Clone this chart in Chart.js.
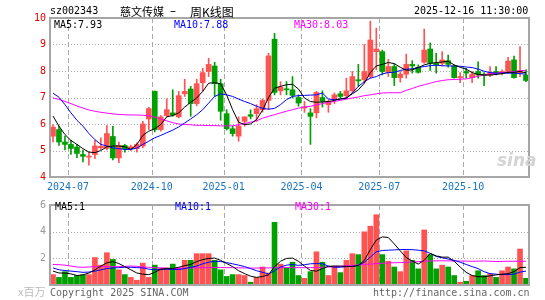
<!DOCTYPE html>
<html>
<head>
<meta charset="utf-8">
<script src="https://cdn.jsdelivr.net/npm/chart.js@4/dist/chart.umd.min.js"></script>
<style>
  body { margin: 0; background: #fff; width: 545px; height: 300px; overflow: hidden; position: relative; }
  canvas { position: absolute; left: 0; }
  #pc { top: 0; }
  #vc { top: 195px; }
  .t { position: absolute; white-space: pre; line-height: 12px; font: 10px "DejaVu Sans Mono", monospace; }
  .cjk { font-family: "Noto Sans CJK SC", sans-serif; font-size: 11px; }
</style>
</head>
<body>
<canvas id="pc" width="545" height="195"></canvas>
<canvas id="vc" width="545" height="105"></canvas>

<div class="t" style="left:50px;top:5px;color:#000">sz002343</div>
<div class="t cjk" style="left:120px;top:3px;color:#000">慈文传媒</div>
<div class="t" style="left:170px;top:4px;color:#000;font:12px 'DejaVu Sans',sans-serif">–</div>
<div class="t cjk" style="left:190px;top:3px;color:#000;font-size:12px">周K线图</div>
<div class="t" style="left:414px;top:5px;color:#000">2025-12-16 11:30:00</div>

<div class="t" style="left:54px;top:19px;color:#000">MA5:7.93</div>
<div class="t" style="left:174px;top:19px;color:#0000ff">MA10:7.88</div>
<div class="t" style="left:294px;top:19px;color:#ff00ff">MA30:8.03</div>

<div class="t" style="left:497px;top:151px;color:#d4d4d4;font:italic bold 17px 'DejaVu Sans',sans-serif;line-height:18px">sina</div>

<div class="t" style="left:55px;top:201px;color:#000">MA5:1</div>
<div class="t" style="left:175px;top:201px;color:#0000ff">MA10:1</div>
<div class="t" style="left:295px;top:201px;color:#ff00ff">MA30:1</div>

<div class="t cjk" style="left:18px;top:283px;color:#bbb">x百万</div>
<div class="t" style="left:50px;top:287px;color:#666">Copyright 2025 SINA.COM</div>
<div class="t" style="left:373px;top:287px;color:#666">http://finance.sina.com.cn</div>

<script>
// weekly bars, 2024-06 .. 2025-12
const open  = [5.54,5.79,5.32,5.23,5.13,4.85,4.75,4.85,5.10,5.08, 5.53,4.72,5.19,5.07,5.07,5.17,6.19,7.23,5.79,6.32,
               6.42,6.27,7.14,7.32,6.77,7.56,7.98,8.19,7.52,6.39, 5.82,5.54,6.10,6.35,6.39,6.54,6.89,9.20,7.25,7.32,
               7.29,7.00,6.60,6.42,6.42,7.00,6.73,6.92,7.14,7.07, 7.25,7.67,7.67,7.79,8.73,8.73,7.94,8.17,7.75,7.88,
               8.25,8.14,8.33,8.83,8.29,8.29,8.39,8.19,7.75,7.98, 7.75,7.98,7.88,7.84,7.98,7.92,7.98,8.42,7.92,7.85];
const high  = [5.98,5.92,5.54,5.38,5.23,5.02,4.94,5.38,5.48,5.94, 5.91,5.32,5.23,5.20,5.29,6.10,6.63,7.25,6.32,6.95,
               7.29,7.23,7.69,7.42,7.69,8.10,8.48,8.33,7.69,6.54, 5.92,6.27,6.27,6.54,6.73,6.95,8.67,9.42,7.60,7.60,
               7.79,7.10,6.85,6.58,7.23,7.25,6.92,7.17,7.23,7.73, 7.98,8.25,9.00,9.88,9.62,8.79,8.44,8.27,7.98,8.64,
               8.39,8.23,9.58,9.06,8.67,8.73,8.60,8.23,7.94,8.10, 7.98,8.35,7.94,8.17,8.17,8.04,8.52,8.56,8.92,8.04];
const low   = [5.32,5.19,5.02,4.85,4.73,4.57,4.45,4.69,5.04,5.02, 4.64,4.54,4.94,5.00,4.94,5.10,5.79,5.70,5.73,6.27,
               6.29,6.23,7.04,6.29,6.69,7.23,7.79,7.04,6.14,5.77, 5.54,5.35,5.92,6.19,6.10,6.45,6.54,7.10,7.10,7.10,
               6.98,6.67,6.44,5.23,6.23,6.64,6.44,6.77,6.98,6.94, 7.17,7.42,7.54,7.73,8.04,7.85,7.79,7.45,7.58,7.73,
               7.92,7.92,8.29,8.02,7.92,8.19,8.14,7.73,7.56,7.73, 7.56,7.73,7.45,7.79,7.85,7.85,7.92,7.73,7.79,7.60];
const close = [5.88,5.32,5.23,5.08,4.89,4.78,4.78,5.17,5.16,5.64, 4.72,5.19,5.07,5.14,5.23,6.00,6.58,5.79,6.27,6.54,
               6.34,7.07,7.23,6.77,7.52,7.94,8.25,7.52,6.48,5.82, 5.64,5.92,6.27,6.29,6.58,6.89,8.57,7.19,7.39,7.29,
               7.08,6.79,6.64,6.29,7.19,6.85,6.85,7.10,7.04,7.25, 7.79,7.63,7.98,9.17,8.83,7.98,8.17,7.75,7.88,8.25,
               8.19,7.95,8.79,8.29,8.23,8.42,8.25,7.75,7.79,7.92, 7.88,7.85,7.83,7.94,7.94,7.98,8.38,7.75,8.02,7.64];

// price moving averages
const ma5  = [6.30,5.92,5.60,5.38,5.23,5.07,4.94,4.92,5.00,5.14, 5.17,5.17,5.14,5.04,5.22,5.57,5.73,5.82,5.98,6.27,
              6.32,6.42,6.64,6.82,6.98,7.23,7.54,7.56,7.52,7.10, 6.54,6.07,5.98,6.00,6.17,6.52,7.00,7.35,7.42,7.48,
              7.50,7.32,6.98,6.85,6.82,6.83,6.85,6.89,6.95,6.98, 7.14,7.29,7.54,7.94,8.19,8.25,8.32,8.28,8.14,8.03,
              8.04,8.13,8.23,8.29,8.32,8.34,8.37,8.23,8.14,8.07, 7.94,7.87,7.85,7.85,7.87,7.90,7.95,7.95,7.98,7.93];
const ma10 = [7.16,7.01,6.73,6.42,6.14,5.92,5.64,5.41,5.23,5.17, 5.10,5.07,5.04,5.04,5.09,5.23,5.35,5.48,5.57,5.67,
              5.77,5.89,6.04,6.19,6.35,6.54,6.79,7.04,7.14,7.10, 7.04,6.94,6.85,6.77,6.67,6.59,6.56,6.59,6.73,6.92,
              7.04,7.07,7.08,7.09,7.10,7.17,6.94,6.92,6.94,6.98, 7.17,7.42,7.60,7.73,7.79,7.89,7.94,7.95,8.02,8.07,
              8.08,8.13,8.17,8.20,8.22,8.20,8.19,8.19,8.18,8.15, 8.13,8.07,7.99,7.94,7.92,7.92,7.92,7.92,7.90,7.88];
const ma30 = [6.98,6.93,6.85,6.77,6.68,6.60,6.53,6.48,6.44,6.41, 6.38,6.36,6.35,6.34,6.34,6.33,6.31,6.26,6.19,6.12,
              6.05,6.00,5.98,5.97,5.95,5.95,5.94,5.94,5.93,5.93, 5.93,5.97,6.02,6.07,6.12,6.22,6.29,6.35,6.42,6.48,
              6.54,6.60,6.64,6.67,6.72,6.77,6.82,6.85,6.89,6.94, 6.98,7.02,7.07,7.10,7.14,7.17,7.18,7.18,7.18,7.27,
              7.34,7.42,7.48,7.54,7.60,7.64,7.67,7.68,7.69,7.70, 7.75,7.80,7.85,7.89,7.92,7.94,7.95,7.98,8.00,8.03];

// volume, millions of shares
const vol   = [0.78,0.57,1.00,0.57,0.71,0.76,0.78,2.06,1.49,2.42, 1.92,1.14,0.78,0.57,0.36,1.64,0.57,1.49,1.28,1.28,
               1.57,1.30,1.85,1.85,2.35,2.35,2.35,1.85,1.14,0.64, 0.78,0.78,0.71,0.21,0.57,1.35,0.90,4.70,1.57,1.28,
               1.71,0.71,0.50,1.00,2.49,1.71,0.71,1.42,0.93,1.85, 2.35,2.28,3.99,4.41,5.27,2.28,1.78,1.35,1.00,2.56,
               1.85,1.21,4.13,2.28,1.21,1.49,1.35,0.71,0.21,0.28, 0.71,1.07,0.71,0.85,0.57,1.07,1.35,1.21,2.70,0.50];
const vma5  = [1.04,0.90,0.90,0.83,0.71,0.76,0.90,1.14,1.42,1.66, 1.76,1.61,1.38,1.14,0.90,0.81,0.78,0.95,1.19,1.23,
               1.23,1.33,1.45,1.54,1.76,1.90,1.99,2.02,1.85,1.61, 1.38,1.07,0.85,0.66,0.57,0.64,0.76,1.38,1.78,1.99,
               2.02,1.78,1.42,1.09,1.04,1.23,1.40,1.42,1.42,1.40, 1.38,1.47,1.85,2.66,3.37,3.61,3.56,3.08,2.56,2.06,
               1.80,1.57,1.85,2.37,2.18,2.09,2.09,1.78,1.35,0.95, 0.71,0.62,0.62,0.69,0.76,0.81,0.85,1.00,1.30,1.33];
const vma10 = [1.28,1.14,1.09,1.04,1.00,0.95,0.97,1.04,1.14,1.23, 1.28,1.30,1.33,1.33,1.30,1.28,1.19,1.14,1.16,1.19,
               1.16,1.16,1.23,1.33,1.42,1.59,1.71,1.78,1.76,1.68, 1.59,1.49,1.38,1.23,1.07,0.95,0.83,1.07,1.35,1.49,
               1.54,1.47,1.52,1.59,1.61,1.59,1.42,1.33,1.33,1.38, 1.40,1.47,1.71,2.09,2.49,2.59,2.61,2.63,2.66,2.66,
               2.65,2.61,2.56,2.37,2.14,2.04,1.95,1.85,1.71,1.54, 1.38,1.23,1.00,0.85,0.81,0.78,0.78,0.81,0.97,1.04];
const vma30 = [1.54,1.52,1.49,1.42,1.35,1.33,1.35,1.38,1.38,1.38, 1.38,1.38,1.40,1.42,1.40,1.35,1.33,1.30,1.28,1.26,
               1.23,1.24,1.26,1.28,1.30,1.30,1.30,1.31,1.31,1.30, 1.30,1.29,1.28,1.27,1.27,1.28,1.28,1.30,1.31,1.31,
               1.30,1.30,1.30,1.30,1.31,1.33,1.35,1.38,1.40,1.44, 1.47,1.50,1.54,1.57,1.60,1.63,1.66,1.67,1.68,1.70,
               1.73,1.75,1.78,1.80,1.81,1.82,1.81,1.80,1.80,1.79, 1.78,1.79,1.80,1.78,1.76,1.77,1.78,1.78,1.78,1.78];

// month ticks on the time axis
const monthIdx = [3, 17, 29, 42, 55, 69];
const monthLbl = ['2024-07', '2024-10', '2025-01', '2025-04', '2025-07', '2025-10'];
const priceGrid = [5, 6, 7, 8, 9];
const volGrid = [2, 4];

const UP = '#ff5353', DOWN = '#00a000';
const MONO = { family: 'DejaVu Sans Mono', size: 10 };

// one category per week (Friday of that week)
const weeks = [];
for (let i = 0; i < close.length; i++) {
    const d = new Date(Date.UTC(2024, 5, 14 + 7 * i));
    weeks.push(d.toISOString().slice(0, 10));
}
const tickText = weeks.map((w, i) => {
    const k = monthIdx.indexOf(i);
    return k >= 0 ? monthLbl[k] : '';
});
const barColor = close.map((c, i) => c >= open[i] ? UP : DOWN);
const bodies = open.map((o, i) => [o, close[i]]);
const wicks = low.map((l, i) => [l, high[i]]);

// dotted / dashed guides behind the bars, placed through the chart's own scales
const guides = {
    id: 'guides',
    beforeDatasetsDraw(chart, args, opts) {
        const { ctx, chartArea: a, scales: { x, y } } = chart;
        const half = (x.getPixelForValue(1) - x.getPixelForValue(0)) / 2;
        ctx.save();
        ctx.strokeStyle = '#aaaaaa';
        ctx.lineWidth = 1;
        ctx.setLineDash([1, 2]);
        opts.ys.forEach(v => {
            const py = Math.round(y.getPixelForValue(v)) + 0.5;
            ctx.beginPath(); ctx.moveTo(a.left, py); ctx.lineTo(a.right, py); ctx.stroke();
        });
        ctx.setLineDash([5, 3]);
        monthIdx.forEach(i => {
            const px = Math.round(x.getPixelForValue(i) - half) + 0.5;
            ctx.beginPath(); ctx.moveTo(px, a.top); ctx.lineTo(px, a.bottom); ctx.stroke();
        });
        ctx.restore();
    },
    afterDraw(chart) {
        const { ctx, chartArea: a } = chart;
        ctx.save();
        ctx.strokeStyle = '#a6a6a6';
        ctx.lineWidth = 2;
        ctx.strokeRect(a.left, a.top, a.right - a.left, a.bottom - a.top);
        ctx.restore();
    }
};

function lineSet(data, color) {
    return { type: 'line', data, borderColor: color, borderWidth: 1, pointRadius: 0, tension: 0, order: 0 };
}

// price panel
new Chart(document.getElementById('pc'), {
    type: 'bar',
    data: {
        labels: weeks,
        datasets: [
            lineSet(ma5, '#000000'),
            lineSet(ma10, '#0000ff'),
            lineSet(ma30, '#ff00ff'),
            { data: bodies, backgroundColor: barColor, barThickness: 5, minBarLength: 1, grouped: false, order: 1 },
            { data: wicks, backgroundColor: barColor, barThickness: 1, grouped: false, order: 2 }
        ]
    },
    options: {
        responsive: false,
        animation: false,
        layout: { padding: { top: 18, right: 16, left: 0, bottom: 0 } },
        plugins: { legend: { display: false }, tooltip: { enabled: false }, guides: { ys: priceGrid } },
        scales: {
            x: {
                offset: true,
                grid: { display: false, drawTicks: false },
                border: { display: false },
                ticks: {
                    autoSkip: false, maxRotation: 0, padding: 4, labelOffset: -3,
                    color: '#1a73c0', font: MONO,
                    callback: (v, i) => tickText[i]
                },
                afterFit: s => { s.height = 18; }
            },
            y: {
                min: 4, max: 10,
                ticks: { stepSize: 1, color: '#e00000', padding: 4, font: MONO, callback: v => String(v) },
                grid: { display: false, drawTicks: false },
                border: { display: false },
                afterFit: s => { s.width = 50; }
            }
        }
    },
    plugins: [guides]
});

// volume panel
new Chart(document.getElementById('vc'), {
    type: 'bar',
    data: {
        labels: weeks,
        datasets: [
            lineSet(vma5, '#000000'),
            lineSet(vma10, '#0000ff'),
            lineSet(vma30, '#ff00ff'),
            { data: vol, backgroundColor: barColor, barThickness: 5, grouped: false, order: 1 }
        ]
    },
    options: {
        responsive: false,
        animation: false,
        layout: { padding: { top: 6, right: 16, left: 0, bottom: 15 } },
        plugins: { legend: { display: false }, tooltip: { enabled: false }, guides: { ys: volGrid } },
        scales: {
            x: {
                offset: true,
                grid: { display: false, drawTicks: false },
                border: { display: false },
                ticks: { display: false },
                afterFit: s => { s.height = 0; }
            },
            y: {
                min: 0, max: 6,
                ticks: { stepSize: 2, color: '#999999', padding: 4, font: MONO, callback: v => v === 0 ? '' : String(v) },
                grid: { display: false, drawTicks: false },
                border: { display: false },
                afterFit: s => { s.width = 50; }
            }
        }
    },
    plugins: [guides]
});
</script>
</body>
</html>
